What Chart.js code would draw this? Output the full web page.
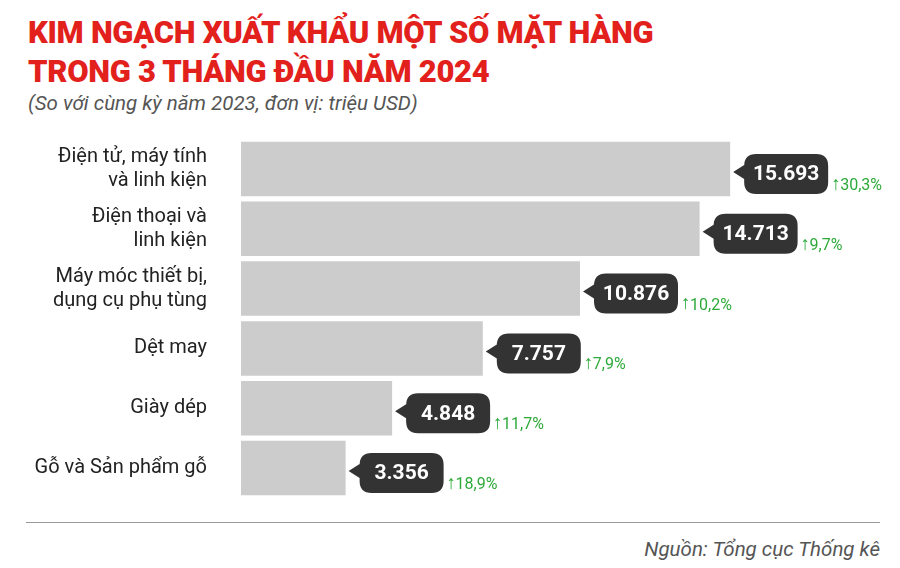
<!DOCTYPE html>
<html><head><meta charset="utf-8">
<script src="https://cdn.jsdelivr.net/npm/chart.js@4"></script>
<style>
body{margin:0;width:900px;height:568px;background:#fff;font-family:Roboto,sans-serif;position:relative;overflow:hidden}
.t{position:absolute;left:28px;color:#e3211c;font-weight:900;font-size:31px;letter-spacing:-0.3px}
.sub{position:absolute;left:28px;top:91px;color:#555;font-style:italic;font-size:20.5px}
.line{position:absolute;left:26px;top:522px;width:854px;height:1px;background:#999}
.src{position:absolute;right:20px;top:537px;color:#555;font-style:italic;font-size:20.5px}
#wrap{position:absolute;left:0;top:0;width:900px;height:568px}
</style></head><body>
<div class="t" style="top:14px">KIM NGẠCH XUẤT KHẨU MỘT SỐ MẶT HÀNG</div>
<div class="t" style="top:53px">TRONG 3 THÁNG ĐẦU NĂM 2024</div>
<div class="sub">(So với cùng kỳ năm 2023, đơn vị: triệu USD)</div>
<div class="line"></div>
<div class="src">Nguồn: Tổng cục Thống kê</div>
<div id="wrap"><canvas id="c"></canvas></div>
<script>
const categories=[["Điện tử, máy tính","và linh kiện"],["Điện thoại và","linh kiện"],["Máy móc thiết bị,","dụng cụ phụ tùng"],"Dệt may","Giày dép","Gỗ và Sản phẩm gỗ"];
const values=[15693,14713,10876,7757,4848,3356];
const valueLabels=["15.693","14.713","10.876","7.757","4.848","3.356"];
const growthLabels=["30,3%","9,7%","10,2%","7,9%","11,7%","18,9%"];
const bubbles={id:'bub',afterDatasetsDraw(ch){
 const ctx=ch.ctx;const meta=ch.getDatasetMeta(0);
 meta.data.forEach((b,i)=>{
  const x=b.x+3,y=b.y+5,w=84,h=40,r=12,bx=x+11;
  ctx.save();ctx.fillStyle='#333333';
  ctx.beginPath();ctx.moveTo(bx+r,y-h/2);ctx.lineTo(bx+w-r,y-h/2);ctx.quadraticCurveTo(bx+w,y-h/2,bx+w,y-h/2+r);
  ctx.lineTo(bx+w,y+h/2-r);ctx.quadraticCurveTo(bx+w,y+h/2,bx+w-r,y+h/2);ctx.lineTo(bx+r,y+h/2);
  ctx.quadraticCurveTo(bx,y+h/2,bx,y+h/2-r);ctx.lineTo(bx,y+5);ctx.lineTo(x,y-2);ctx.lineTo(bx,y-9);
  ctx.lineTo(bx,y-h/2+r);ctx.quadraticCurveTo(bx,y-h/2,bx+r,y-h/2);ctx.fill();
  ctx.fillStyle='#fff';ctx.font='bold 21px Roboto';ctx.textAlign='center';ctx.textBaseline='middle';
  ctx.fillText(valueLabels[i],bx+w/2,y+1);
  ctx.fillStyle='#2eaa3a';ctx.textAlign='left';
  ctx.font='bold 19px Roboto';ctx.fillText('↑',bx+w+3,y+11);
  ctx.font='16px Roboto';ctx.fillText(growthLabels[i],bx+w+12,y+12);
  ctx.restore();});
}};
new Chart(document.getElementById('c'),{type:'bar',
 data:{labels:categories,datasets:[{data:values,backgroundColor:'#cccccc',barPercentage:0.91,categoryPercentage:1}]},
 options:{indexAxis:'y',responsive:true,maintainAspectRatio:false,animation:false,
  layout:{padding:{top:139,bottom:70,right:20,left:0}},
  plugins:{legend:{display:false},tooltip:{enabled:false}},
  scales:{x:{min:0,max:20500,display:false},
   y:{grid:{display:false},border:{display:false},afterFit(s){s.width=241;},
      ticks:{padding:26,color:'#222',font:{size:20,family:'Roboto'}}}}},
 plugins:[bubbles]});
</script></body></html>
